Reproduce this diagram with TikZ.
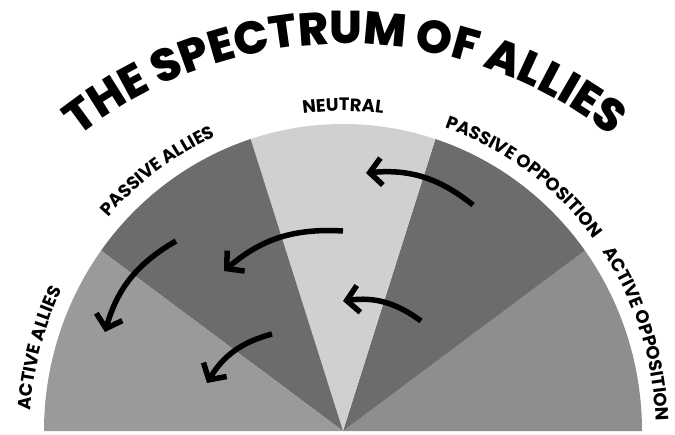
\documentclass[tikz,border=0pt]{standalone}
\usepackage{fontspec}
\setmainfont{Poppins}
\IfFontExistsTF{Poppins ExtraBold}{\newfontfamily\titlefont{Poppins ExtraBold}}{\newfontfamily\titlefont{Poppins}[UprightFont=* Bold]}
\usetikzlibrary{arrows.meta,decorations.text}
\definecolor{actgray}{HTML}{9A9A9A}
\definecolor{oppgray}{HTML}{8E8E8E}
\definecolor{pasgray}{HTML}{6C6C6C}
\definecolor{neugray}{HTML}{D0D0D0}
\begin{document}
\begin{tikzpicture}[x=1pt,y=1pt,
  sweep/.style={line width=5.5pt,-{Straight Barb[length=12pt,width=27pt]}},
  lbl/.style={decorate,decoration={text along path,text align=center,
    text={|\bfseries\fontsize{18}{18}\selectfont|#1}}}]
\useasboundingbox (0,0) rectangle (675,434);
\coordinate (O) at (343,3);
% wedges, right to left
\foreach \a/\c in {0/oppgray,36/pasgray,72/neugray,108/pasgray,144/actgray}
  \fill[\c] (O) -- ++(\a:299 and 307) arc[start angle=\a,delta angle=36,x radius=299,y radius=307] -- cycle;
% labels round the rim
\path[lbl=ACTIVE OPPOSITION,shift={(O)}] (48:313 and 321) arc[start angle=48,end angle=-12,x radius=313,y radius=321];
\path[lbl=PASSIVE OPPOSITION,shift={(O)}] (84:313 and 321) arc[start angle=84,end angle=24,x radius=313,y radius=321];
\path[lbl=NEUTRAL,shift={(O)}] (120:312 and 320) arc[start angle=120,end angle=60,x radius=312,y radius=320];
\path[lbl=PASSIVE ALLIES,shift={(O)}] (156:314 and 322) arc[start angle=156,end angle=96,x radius=314,y radius=322];
\path[lbl=ACTIVE ALLIES,shift={(O)}] (195:313 and 321) arc[start angle=195,end angle=135,x radius=313,y radius=321];
% title
\path[decorate,decoration={text along path,text align=center,
    text={|\titlefont\fontsize{46}{46}\selectfont|THE SPECTRUM OF ALLIES}},shift={(345,-41)}]
  (160:431) arc[start angle=160,end angle=20,radius=431];
% arrows
\coordinate (s1) at (473,229); \coordinate (t1) at (366,261);
\coordinate (s2) at (421,113); \coordinate (t2) at (343,133);
\coordinate (s3) at (343,203); \coordinate (t3) at (224,163);
\coordinate (s4) at (176,193); \coordinate (t4) at (105,102);
\coordinate (s5) at (272,100); \coordinate (t5) at (207,51);
\foreach \i in {1,...,5}
  \draw[sweep] (s\i) to[bend right=22] (t\i);
\end{tikzpicture}
\end{document}
